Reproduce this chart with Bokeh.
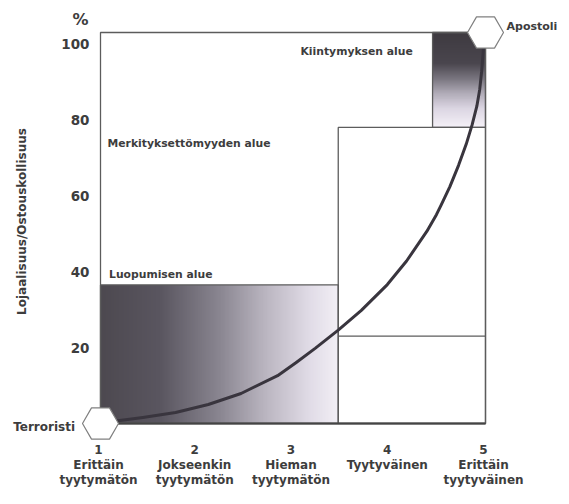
import numpy as np
from bokeh.plotting import figure
from bokeh.models import Range1d
from bokeh.core.properties import value
from bokeh.embed import file_html
from bokeh.resources import INLINE

# ---------------- data ----------------
x_ticks = [1, 2, 3, 4, 5]
x_tick_labels = ["1\nErittäin\ntyytymätön", "2\nJokseenkin\ntyytymätön",
                 "3\nHieman\ntyytymätön", "4\nTyytyväinen", "5\nErittäin\ntyytyväinen"]
y_ticks = [20, 40, 60, 80, 100]
y_tick_labels = ["20", "40", "60", "80", "100"]
y_title = "Lojaalisuus/Ostouskollisuus"
y_unit = "%"

# zones: Luopumisen (gradient), Merkityksettömyyden box (right), Kiintymyksen (gradient)
zone_names = ["Luopumisen alue", "Merkityksettömyyden alue", "Kiintymyksen alue"]
zone_left = [1.0, 3.47, 4.45]
zone_right = [3.47, 5.0, 5.0]
zone_bottom = [0.0, 0.0, 78.0]
zone_top = [36.5, 78.0, 103.0]
merk_split = 23.0

x_min, x_max = 1.0, 5.0
y_min, y_max = 0.0, 103.0

curve_x = [1.05, 1.24, 1.44, 1.78, 2.12, 2.46, 2.84, 3.03, 3.23, 3.47, 3.71, 3.98, 4.18,
           4.39, 4.49, 4.54, 4.63, 4.72, 4.80, 4.86, 4.91, 4.94, 4.96, 4.975, 4.985]
curve_y = [0.3, 0.9, 1.6, 2.9, 5.0, 7.9, 12.6, 16.0, 19.8, 24.6, 29.8, 36.6, 42.8,
           50.6, 55.0, 57.6, 62.4, 68.0, 73.6, 78.6, 83.6, 88.0, 92.8, 97.5, 101.0]

end_names = ["Terroristi", "Apostoli"]
end_x = [1.0, 5.0]
end_y = [0.0, 103.0]

# ---------------- layout (pixels) ----------------
W, H = 560, 488
FL, FR, FT, FB = 100, 485, 32, 423   # canvas px of box left/right/top/bottom
x_per = (FR - FL) / (x_max - x_min)
y_per = (FB - FT) / (y_max - y_min)
x_start = x_min - FL / x_per
x_end = x_max + (W - FR) / x_per
y_start = y_min - (H - FB) / y_per
y_end = y_max + FT / y_per

FONT = value("DejaVu Sans")
TXT = "#3d3d3d"
LINE = "#5c5c5c"

p = figure(width=W, height=H, x_range=Range1d(x_start, x_end), y_range=Range1d(y_start, y_end),
           output_backend="svg", toolbar_location=None, min_border=0,
           x_axis_location=None, y_axis_location=None, outline_line_color=None,
           background_fill_color="white", border_fill_color="white")
p.grid.visible = False

# ---------------- gradients (as images) ----------------
def gradient_rgba(stops, fracs):
    pos = [s[0] for s in stops]
    rgb = np.array([[int(s[1][i:i + 2], 16) for i in (1, 3, 5)] for s in stops], dtype=float)
    return np.stack([np.interp(fracs, pos, rgb[:, k]) for k in range(3)], axis=-1).astype(np.uint8)

luop_stops = [(0.0, "#4d4950"), (0.25, "#5a5660"), (0.5, "#8a8691"), (0.7, "#bdb8c3"),
              (0.88, "#e2dde8"), (1.0, "#f3f0f6")]
N = 300
cols = gradient_rgba(luop_stops, (np.arange(N) + 0.5) / N)
img = np.empty((2, N), dtype=np.uint32)
v = img.view(dtype=np.uint8).reshape((2, N, 4))
v[:, :, :3] = cols[None, :, :]
v[:, :, 3] = 255
p.image_rgba(image=[img], x=zone_left[0], y=zone_bottom[0],
             dw=zone_right[0] - zone_left[0], dh=zone_top[0] - zone_bottom[0])

kiin_stops = [(0.0, "#3e3a40"), (0.33, "#4a464e"), (0.5, "#7c7882"), (0.65, "#b3aeba"),
              (0.8, "#dcd6e3"), (1.0, "#f6f2f9")]
M = 200
rows = gradient_rgba(kiin_stops, 1.0 - (np.arange(M) + 0.5) / M)   # row 0 = bottom
img2 = np.empty((M, 2), dtype=np.uint32)
v2 = img2.view(dtype=np.uint8).reshape((M, 2, 4))
v2[:, :, :3] = rows[:, None, :]
v2[:, :, 3] = 255
p.image_rgba(image=[img2], x=zone_left[2], y=zone_bottom[2],
             dw=zone_right[2] - zone_left[2], dh=zone_top[2] - zone_bottom[2])

# ---------------- box lines ----------------
p.quad(left=zone_left, right=zone_right, bottom=zone_bottom, top=zone_top,
       fill_color=None, line_color=LINE, line_width=1.3)
p.segment(x0=[zone_left[1]], y0=[merk_split], x1=[zone_right[1]], y1=[merk_split],
          line_color=LINE, line_width=1.3)
p.quad(left=[x_min], right=[x_max], bottom=[y_min], top=[y_max],
       fill_color=None, line_color=LINE, line_width=1.3)
p.segment(x0=[x_min], y0=[y_min], x1=[x_max], y1=[y_min], line_color="#444444", line_width=2.2)

# ---------------- curve ----------------
p.line(curve_x, curve_y, line_width=3, line_color="#39353e", line_cap="round", line_join="round")

# ---------------- hexagons ----------------
p.scatter(end_x, end_y, marker="hex", size=36, fill_color="white",
          line_color="#808080", line_width=1.2)

# ---------------- texts ----------------
def txt(x, y, t, size, align="left", baseline="middle", angle=0.0, line_height=1.2):
    p.text(x=x, y=y, text=t, text_font=FONT, text_font_style="bold", text_font_size=size,
           text_color=TXT, text_align=align, text_baseline=baseline, angle=angle,
           text_line_height=line_height)

# y tick labels
txt([x_min - 11 / x_per] * len(y_ticks), y_ticks, y_tick_labels, "13.5px", align="right")
# unit
txt([x_min - 20 / x_per], [y_max + 13 / y_per], [y_unit], "16px", align="center")
# y title
txt([x_min - 79 / x_per], [y_min + 202 / y_per], [y_title], "12px", align="center", angle=np.pi / 2)
# x tick labels
txt([t - 2 / x_per for t in x_ticks], [y_min - 19 / y_per] * len(x_ticks), x_tick_labels, "12px",
    align="center", baseline="top", line_height=1.1)
# zone labels
zone_label_x = [x_min + 8.5 / x_per, x_min + 7 / x_per, x_min + 200 / x_per]
zone_label_y = [zone_top[0] + 10.6 / y_per, y_min + 280 / y_per, y_max - 18.6 / y_per]
txt(zone_label_x, zone_label_y, zone_names, "10.8px")
# end labels
txt([end_x[0] - 25.5 / x_per], [end_y[0] - 3 / y_per], [end_names[0]], "12px", align="right")
txt([end_x[1] + 21 / x_per], [end_y[1] + 6 / y_per], [end_names[1]], "11px", align="left")

open("out.html", "w").write(file_html(p, INLINE))
